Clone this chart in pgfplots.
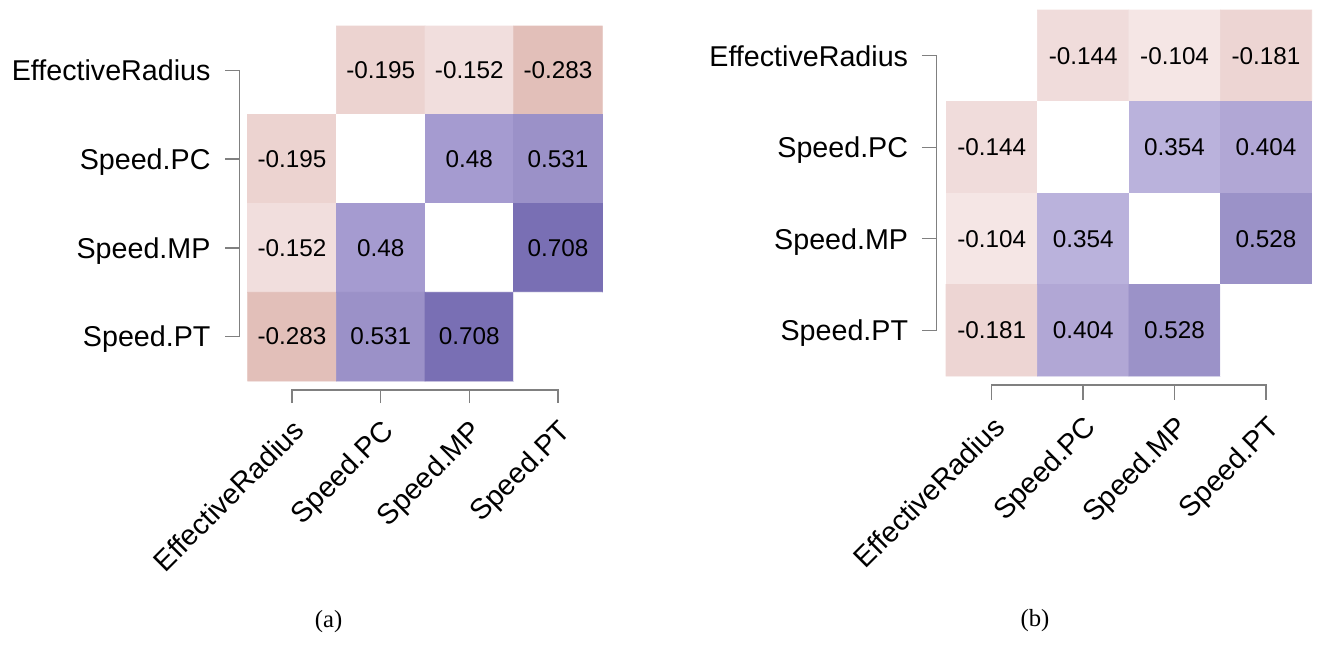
\documentclass[border=0pt]{standalone}
\usepackage{pgfplots}
\pgfplotsset{compat=1.18}
\usepackage{fontspec}
\setmainfont{Liberation Sans}
\newfontfamily\seriffont{Liberation Serif}
\newcommand\numfont{\fontsize{18.2}{20}\selectfont}
\newcommand\labfont{\fontsize{21.5}{24}\selectfont}
\definecolor{axgray}{RGB}{128,128,128}
\pgfplotsset{
  colormap={corr}{
    rgb255(0pt)=(180,110,100)
    rgb255(71.7pt)=(226,191,185)
    rgb255(80.5pt)=(236,211,208)
    rgb255(81.9pt)=(237,213,211)
    rgb255(84.8pt)=(241,222,221)
    rgb255(85.6pt)=(240,220,219)
    rgb255(89.6pt)=(245,230,229)
    rgb255(100pt)=(255,255,255)
    rgb255(135.4pt)=(186,178,220)
    rgb255(140.4pt)=(177,167,213)
    rgb255(148pt)=(165,155,208)
    rgb255(152.8pt)=(155,146,200)
    rgb255(153.1pt)=(155,145,200)
    rgb255(170.8pt)=(121,111,180)
    rgb255(200pt)=(60,40,150)
  },
  heat/.style={
    scale only axis, hide axis, clip=false, enlargelimits=false,
    xmin=-0.5, xmax=3.5, ymin=-0.5, ymax=3.5, y dir=reverse,
    point meta min=-1, point meta max=1, colormap name=corr,
  },
  cellnum/.style={draw=none, nodes near coords, point meta=explicit symbolic,
    every node near coord/.append style={anchor=center, inner sep=0pt, font=\numfont, text=black}},
  ylab/.style={draw=none, nodes near coords, point meta=explicit symbolic,
    every node near coord/.append style={anchor=base east, inner sep=0pt, font=\labfont, text=black}},
  xlab/.style={draw=none, nodes near coords, point meta=explicit symbolic,
    every node near coord/.append style={anchor=base east, rotate=45, inner sep=0pt, font=\labfont, text=black}},
  brk/.style={axgray, line width=1pt},
}
\begin{document}
\begin{tikzpicture}
\useasboundingbox (0,0) rectangle (987.75pt,484.5pt);
% ---------------- (a) ----------------
\begin{axis}[heat, at={(185.78pt,198.75pt)}, anchor=south west, width=265.95pt, height=266.25pt]
\addplot[matrix plot*, mesh/cols=4, point meta=explicit] table[meta=c]{
x y c
0 0 0
1 0 -0.195
2 0 -0.152
3 0 -0.283
0 1 -0.195
1 1 0
2 1 0.48
3 1 0.531
0 2 -0.152
1 2 0.48
2 2 0
3 2 0.708
0 3 -0.283
1 3 0.531
2 3 0.708
3 3 0
};
\addplot[cellnum] table[meta=t]{
x y t
1 0 -0.195
2 0 -0.152
3 0 -0.283
0 1 -0.195
2 1 0.48
3 1 0.531
0 2 -0.152
1 2 0.48
3 2 0.708
0 3 -0.283
1 3 0.531
2 3 0.708
};
% y bracket
\addplot[brk] coordinates {(-0.756,0) (-0.595,0) (-0.595,3) (-0.756,3)};
\addplot[brk] coordinates {(-0.756,1) (-0.595,1)};
\addplot[brk] coordinates {(-0.756,2) (-0.595,2)};
% x bracket
\addplot[brk] coordinates {(0,3.748) (0,3.601) (3,3.601) (3,3.748)};
\addplot[brk] coordinates {(1,3.748) (1,3.601)};
\addplot[brk] coordinates {(2,3.748) (2,3.601)};
\addplot[ylab] table[meta=t]{
x y t
-0.917 0.115 EffectiveRadius
-0.917 1.115 Speed.PC
-0.917 2.115 Speed.MP
-0.917 3.115 Speed.PT
};
\addplot[xlab] table[meta=t]{
x y t
0.160 4.080 EffectiveRadius
1.160 4.080 Speed.PC
2.160 4.080 Speed.MP
3.160 4.080 Speed.PT
};
\end{axis}
% ---------------- (b) ----------------
\begin{axis}[heat, at={(709.5pt,202.5pt)}, anchor=south west, width=274.3pt, height=274.5pt]
\addplot[matrix plot*, mesh/cols=4, point meta=explicit] table[meta=c]{
x y c
0 0 0
1 0 -0.144
2 0 -0.104
3 0 -0.181
0 1 -0.144
1 1 0
2 1 0.354
3 1 0.404
0 2 -0.104
1 2 0.354
2 2 0
3 2 0.528
0 3 -0.181
1 3 0.404
2 3 0.528
3 3 0
};
\addplot[cellnum] table[meta=t]{
x y t
1 0 -0.144
2 0 -0.104
3 0 -0.181
0 1 -0.144
2 1 0.354
3 1 0.404
0 2 -0.104
1 2 0.354
3 2 0.528
0 3 -0.181
1 3 0.404
2 3 0.528
};
\addplot[brk] coordinates {(-0.763,0) (-0.602,0) (-0.602,3) (-0.763,3)};
\addplot[brk] coordinates {(-0.763,1) (-0.602,1)};
\addplot[brk] coordinates {(-0.763,2) (-0.602,2)};
\addplot[brk] coordinates {(0,3.762) (0,3.598) (3,3.598) (3,3.762)};
\addplot[brk] coordinates {(1,3.762) (1,3.598)};
\addplot[brk] coordinates {(2,3.762) (2,3.598)};
\addplot[ylab] table[meta=t]{
x y t
-0.912 0.115 EffectiveRadius
-0.912 1.115 Speed.PC
-0.912 2.115 Speed.MP
-0.912 3.115 Speed.PT
};
\addplot[xlab] table[meta=t]{
x y t
0.160 4.078 EffectiveRadius
1.160 4.078 Speed.PC
2.160 4.078 Speed.MP
3.160 4.078 Speed.PT
};
\end{axis}
\node[font=\seriffont\fontsize{18.5}{20}\selectfont, inner sep=0pt] at (246.5pt,18.2pt) {(a)};
\node[font=\seriffont\fontsize{18.5}{20}\selectfont, inner sep=0pt] at (776.25pt,18.75pt) {(b)};
\end{tikzpicture}
\end{document}
